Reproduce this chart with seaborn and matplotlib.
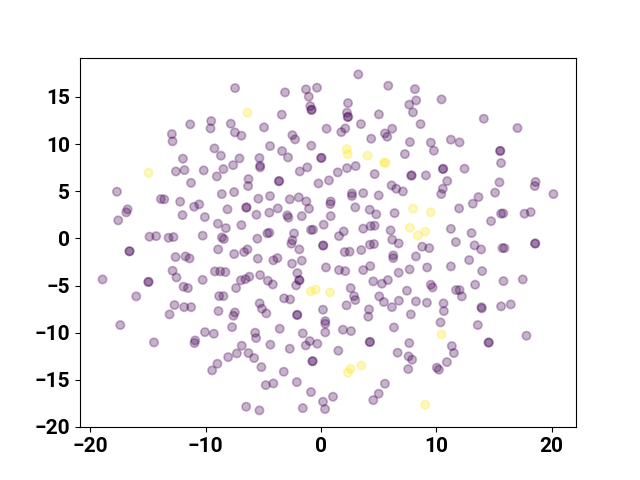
import matplotlib
matplotlib.use("Agg")
import matplotlib.pyplot as plt
import seaborn as sns
import pandas as pd

# class 0 (purple) points
x0 = [-11.34, -12.93, -12.87, -11.97, -12.58, -11.84, -10.17, -11.27, -7.45, -3.12,
      -1.30, -1.06, -0.35, -0.93, -0.84, -0.80, -3.40, -9.52, -9.58, -7.82,
      -7.47, -6.90, -4.94, -2.48, -2.25, 0.48, -9.24, -8.68, -7.07, -7.62,
      -8.46, -9.03, -4.42, -3.38, -2.86, -0.84, 0.00, 0.05, -5.34, -5.28,
      -5.28, -6.29, -6.32, -3.66, -3.62, -1.84, -1.19, -0.22, 0.69, 3.23,
      5.83, 8.14, 8.25, 7.65, 7.97, 10.45, 2.34, 2.25, 2.31, 2.36,
      5.02, 3.46, 2.10, 1.76, 4.35, 5.54, 5.74, 6.17, 8.63, 7.71,
      9.52, 9.78, 11.26, 7.27, 1.45, 2.25, 3.00, 4.65, 7.82, 7.86,
      9.09, 10.56, 10.60, 10.94, 14.11, 17.03, 12.01, 15.52, 15.55, 15.61,
      12.44, 18.60, 15.47, -17.69, -13.88, -13.59, -12.21, -11.00, -10.56, -12.01,
      -16.77, -16.88, -17.58, -14.87, -14.29, -13.22, -12.79, -10.26, -16.62, -16.58,
      -12.61, -11.75, -11.40, -12.87, -12.53, -10.26, -18.94, -14.98, -14.94, -11.92,
      -11.54, -16.02, -12.70, -11.86, -11.26, -13.13, -17.40, -14.48, -10.91, -10.97,
      -10.06, -8.60, -7.53, -5.43, -4.42, -2.71, -1.93, -1.27, -1.04, -8.11,
      -6.49, -6.45, -5.60, -4.48, -3.75, -2.92, -2.83, -1.67, -10.07, -8.94,
      -8.25, -6.90, -0.69, -0.87, 0.23, -8.42, -8.60, -5.52, -4.65, -4.48,
      -2.34, -2.48, -2.57, -1.88, -8.92, -7.53, -6.67, -6.38, 0.17, 0.20,
      -5.48, -4.13, -3.78, -2.51, -1.67, -9.20, -8.74, -8.29, -6.95, -6.55,
      -6.21, -5.28, -4.61, -4.18, -2.05, -1.90, -1.86, -2.16, -7.36, -8.83,
      -8.46, -5.32, -3.20, -2.68, 0.43, 6.12, 6.52, 7.10, 10.56, 10.42,
      2.68, 2.68, 3.66, 5.00, 0.84, 0.81, 2.97, 4.22, 4.79, 6.38,
      0.84, 3.66, 4.30, 4.65, 6.03, 11.26, 1.97, 1.56, 6.17, 6.73,
      4.24, 4.59, 8.77, 9.38, 2.05, 2.48, 3.49, 6.26, 6.26, 8.23,
      1.56, 2.10, 3.66, 4.27, 6.73, 7.68, 9.20, 11.26, 4.53, 5.28,
      5.80, 9.52, 9.67, 7.45, 2.57, 2.86, 2.97, 5.05, 5.45, 6.75,
      8.23, 9.18, 10.62, 2.21, 18.53, 15.09, 13.65, 13.16, 11.97, 20.15,
      15.61, 15.80, 17.64, 18.18, 14.74, 13.05, 11.69, 13.31, 13.88, 15.73,
      15.90, 18.55, 18.58, 12.84, 13.97, 15.82, 17.49, 13.36, 11.71, 12.01,
      12.21, 13.94, 13.90, 15.61, 16.45, 13.59, 17.81, 14.52, 14.55, 11.34,
      11.52, -8.89, -7.47, -7.59, -5.13, -4.74, -2.08, -2.05, 0.17, 0.37,
      0.37, 0.37, -7.71, -9.29, -5.71, -5.63, -3.58, -1.58, -0.98, -1.32,
      -0.32, -2.71, -4.39, -6.87, -7.30, -6.29, -5.80, -8.05, -8.98, -9.44,
      -5.17, -0.75, -0.72, -3.23, -4.79, -4.13, -2.10, -0.87, 0.17, 0.35,
      -6.49, -5.34, -1.58, 4.16, 4.10, 6.15, 10.65, 7.79, 1.90, 2.60,
      6.32, 10.36, 4.22, 4.25, 7.65, 1.50, 6.64, 7.59, 7.90, 7.56,
      10.04, 10.22, 10.91, 5.54, 5.00, 4.53, 1.04]
y0 = [12.09, 11.06, 10.29, 8.45, 7.10, 7.24, 7.21, 5.89, 15.94, 15.48,
      15.80, 15.03, 15.98, 14.03, 13.61, 13.65, 13.12, 12.44, 11.66, 12.16,
      11.24, 10.89, 11.77, 10.95, 10.50, 11.63, 9.54, 8.77, 8.48, 7.77,
      7.35, 6.57, 9.79, 9.26, 8.59, 9.83, 8.52, 8.55, 8.52, 7.71,
      7.53, 6.29, 5.55, 6.04, 6.10, 7.10, 7.53, 5.83, 6.15, 17.39,
      16.19, 15.83, 14.63, 14.18, 13.36, 14.74, 14.35, 13.33, 12.86, 12.90,
      13.15, 12.12, 11.66, 11.27, 10.57, 11.13, 10.78, 11.63, 12.12, 10.21,
      10.15, 9.30, 10.47, 8.94, 7.00, 7.45, 7.67, 6.82, 6.65, 6.69,
      6.68, 7.35, 7.38, 6.08, 12.69, 11.70, 10.18, 9.26, 9.29, 7.99,
      7.39, 5.99, 5.94, 4.95, 4.17, 4.14, 3.89, 3.36, 3.61, 2.47,
      3.08, 2.76, 1.91, 0.18, 0.24, 0.07, 0.14, 0.29, -1.38, -1.35,
      -1.98, -1.91, -2.12, -3.43, -4.14, -4.40, -4.35, -4.63, -4.60, -5.12,
      -5.27, -6.15, -7.07, -7.29, -7.29, -8.06, -9.19, -11.03, -10.82, -11.10,
      -9.94, 4.70, 4.91, 4.21, 4.49, 4.14, 4.35, 3.92, 3.15, 3.08,
      3.26, 3.29, 2.51, 2.73, 3.18, 2.44, 2.20, 2.36, 2.26, 1.56,
      1.09, 1.41, 0.92, 0.90, 1.45, -0.07, 0.10, -0.03, 0.53, 0.60,
      0.53, -0.21, -0.56, -1.17, -1.17, -1.66, -1.45, -1.17, -0.77, -0.74,
      -2.15, -2.33, -2.09, -2.68, -2.36, -3.50, -3.50, -3.57, -4.45, -4.32,
      -4.06, -3.89, -4.49, -4.88, -3.68, -4.42, -4.45, -4.98, -5.27, -6.12,
      -6.12, -6.89, -6.36, -6.47, -3.08, 5.62, 5.27, 4.98, 5.27, 4.70,
      4.77, 4.49, 4.80, 4.56, 3.92, 3.64, 3.29, 3.04, 2.55, 2.68,
      2.36, 1.03, 1.30, 1.35, 0.85, 1.01, 0.74, 0.24, -0.14, -0.53,
      -0.67, -0.60, -0.88, -1.03, -1.45, -1.41, -1.24, -1.80, -2.09, -1.91,
      -3.36, -3.47, -3.36, -2.94, -3.64, -3.29, -3.08, -2.97, -4.56, -4.80,
      -4.42, -4.91, -5.20, -5.55, -5.27, -6.12, -6.54, -6.15, -6.75, -6.61,
      -6.68, -6.82, -6.89, -7.10, 5.55, 4.85, 4.38, 3.68, 3.18, 4.70,
      2.62, 2.65, 2.62, 2.79, 1.83, 0.56, -0.39, -0.74, -1.17, -1.03,
      -1.03, -0.56, -0.53, -2.30, -3.47, -4.53, -4.35, -4.91, -5.48, -5.48,
      -6.15, -7.42, -7.30, -7.21, -7.00, -9.19, -10.32, -11.06, -11.03, -11.42,
      -12.16, -7.71, -7.85, -8.20, -7.45, -7.95, -8.13, -8.10, -7.56, -8.77,
      -9.05, -9.97, -9.41, -10.11, -10.00, -10.57, -9.58, -10.07, -10.89, -11.35,
      -11.17, -11.70, -11.27, -11.38, -12.20, -12.16, -12.69, -12.59, -13.29, -14.00,
      -13.65, -13.04, -13.01, -14.14, -15.56, -15.38, -15.24, -16.30, -17.32, -18.10,
      -17.85, -18.24, -18.00, -7.53, -8.30, -7.29, -7.71, -8.06, -9.68, -9.83,
      -9.44, -8.91, -11.00, -10.97, -11.10, -11.91, -12.12, -12.51, -12.86, -13.86,
      -13.71, -13.92, -13.12, -15.41, -16.47, -17.15, -16.79]

# class 1 (yellow) points
x1 = [-14.95, -6.38, 2.23, 2.31, 4.04, 5.45, 5.60, 7.97, 9.52, 7.71,
      8.40, 9.03, -0.89, -0.46, 0.78, 10.45, 2.57, 2.34, 3.49, 9.03]
y1 = [6.97, 13.33, 9.47, 8.91, 8.77, 8.05, 8.00, 3.15, 2.76, 1.13,
      0.32, 0.71, -5.62, -5.44, -5.73, -10.18, -13.82, -14.24, -13.47, -17.64]

df = pd.DataFrame({
    "x": x0 + x1,
    "y": y0 + y1,
    "label": [0] * len(x0) + [1] * len(x1),
})

cmap = plt.get_cmap("viridis")
palette = {0: cmap(0.0), 1: cmap(1.0)}

fig, ax = plt.subplots(figsize=(6.4, 4.8), dpi=100)
sns.scatterplot(data=df, x="x", y="y", hue="label", palette=palette,
                alpha=0.3, s=36, edgecolor="face", linewidth=1.2,
                legend=False, ax=ax)
ax.set_xlabel("")
ax.set_ylabel("")
ax.set_xticks([-20, -10, 0, 10, 20])
ax.set_yticks([-20, -15, -10, -5, 0, 5, 10, 15])
for lab in ax.get_xticklabels() + ax.get_yticklabels():
    lab.set_fontfamily(["Roboto", "DejaVu Sans"])
    lab.set_fontweight("bold")
    lab.set_fontsize(15)
fig.savefig("out.png", dpi=100)
